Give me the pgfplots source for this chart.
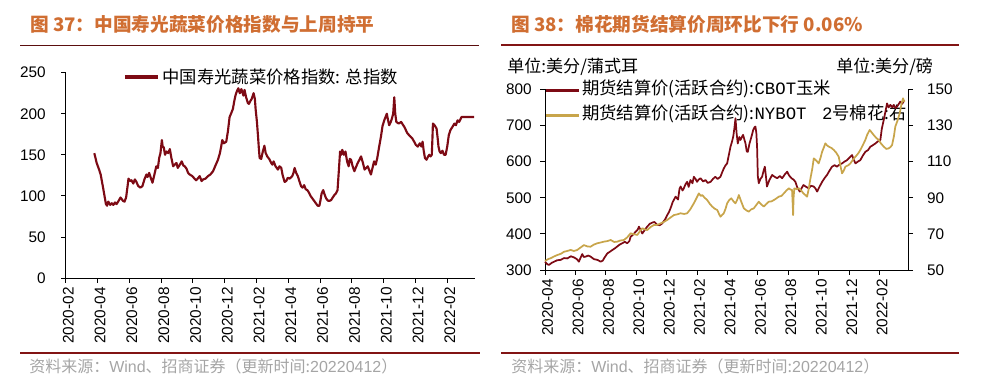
\documentclass[border=0pt]{standalone}
\usepackage{pgfplots}
\pgfplotsset{compat=1.18}
\usepackage{fontspec}
\setmainfont{Liberation Sans}
\newfontfamily\cjk{Noto Sans CJK SC}
\newfontfamily\lmono{Liberation Mono}
\definecolor{corn}{RGB}{125,10,20}
\definecolor{cotton}{RGB}{200,165,75}
\definecolor{titleor}{RGB}{208,110,50}
\definecolor{rulec}{RGB}{130,20,20}
\definecolor{srcgray}{RGB}{165,165,165}

\pgfplotsset{
  base/.style={
    scale only axis, anchor=south west,
    axis line style={-, black, line width=0.6pt},
    tick style={black, line width=0.6pt},
    major tick length=3.5pt, tick align=outside,
    ticklabel style={font=\fontsize{11.5}{13}\selectfont},
    /pgf/number format/assume math mode=true,
    xticklabel style={rotate=90, anchor=east, yshift=-2pt},
    clip=false,
  },
  legbase/.style={
    scale only axis, anchor=south west, hide axis,
    xmin=0,xmax=1,ymin=0,ymax=1,
    legend cell align=left,
    legend image code/.code={\draw[##1] (0pt,0pt) -- (25pt,0pt);},
  }
}

\begin{document}
\begin{tikzpicture}[x=0.75pt,y=0.75pt]
\useasboundingbox (0,0) rectangle (987,388);

% titles
\node[anchor=west, text=titleor, font=\cjk\bfseries\fontsize{14}{16}\selectfont, inner sep=0pt] at (30,363.5) {图 37：中国寿光蔬菜价格指数与上周持平};
\node[anchor=west, text=titleor, font=\cjk\bfseries\fontsize{14}{16}\selectfont, inner sep=0pt] at (511,363.5) {图 38：棉花期货结算价周环比下行 0.06\%};
% rules
\draw[rulec!70!black, line width=0.7pt] (20,343) -- (479,343);
\draw[rulec, line width=1.4pt] (501,343) -- (959,343);
\draw[rulec, line width=1.4pt] (20,35) -- (480,35);
\draw[rulec, line width=1.4pt] (501,35) -- (959,35);
% sources
\node[anchor=west, text=srcgray, font=\cjk\fontsize{12}{13}\selectfont, inner sep=0pt] at (29,22) {资料来源：{\rmfamily Wind}、招商证券（更新时间:{\rmfamily 20220412}）};
\node[anchor=west, text=srcgray, font=\cjk\fontsize{12}{13}\selectfont, inner sep=0pt] at (511,22) {资料来源：{\rmfamily Wind}、招商证券（更新时间:{\rmfamily 20220412}）};
% units
\node[anchor=west, font=\cjk\fontsize{12.8}{14}\selectfont, inner sep=0pt] at (507,321) {单位:美分/蒲式耳};
\node[anchor=west, font=\cjk\fontsize{12.8}{14}\selectfont, inner sep=0pt] at (836,321) {单位:美分/磅};

% ---------- left legend ----------
\begin{axis}[legbase, at={(49.275pt,82.5pt)}, width=307pt, height=154pt,
  legend style={at={(0.14,0.979)}, anchor=west, draw=none, fill=none, inner sep=0pt,
    font=\cjk\fontsize{13}{15}\selectfont}]
\addlegendimage{corn, line width=2.4pt}
\addlegendentry{中国寿光蔬菜价格指数: 总指数}
\end{axis}

% ---------- left data ----------
\begin{axis}[base, at={(49.275pt,82.5pt)}, width=307pt, height=154pt,
  axis lines*=left,
  xmin=0, xmax=25.75, ymin=0, ymax=250,
  ytick={0,50,...,250},
  xtick={0,2,...,24},
  xticklabels={2020-02,2020-04,2020-06,2020-08,2020-10,2020-12,2021-02,2021-04,2021-06,2021-08,2021-10,2021-12,2022-02},
  yticklabel style={xshift=-8pt},
]
\addplot[corn, line width=1.6pt, line join=round] table {
1.80 152
1.95 140
2.10 132
2.20 126
2.36 109
2.53 90
2.60 88
2.68 93
2.80 89
2.90 91
3.00 89
3.10 92
3.20 90
3.30 93
3.45 98
3.60 94
3.70 93
3.80 98
3.88 110
3.95 121
4.05 118
4.14 119
4.25 115
4.35 120
4.45 117
4.56 112
4.70 110
4.83 112
4.95 120
5.08 126
5.15 123
5.25 128
5.35 122
5.46 116
5.58 126
5.70 136
5.80 134
5.88 146
5.96 152
6.05 168
6.10 160
6.17 159
6.25 150
6.34 154
6.45 152
6.55 157
6.65 146
6.76 136
6.85 138
6.97 140
7.05 134
7.18 138
7.30 142
7.40 137
7.49 136
7.60 133
7.70 128
7.80 126
7.97 124
8.10 121
8.20 119
8.30 121
8.43 124
8.55 118
8.64 120
8.80 121
8.95 124
9.10 126
9.27 130
9.40 136
9.58 144
9.70 152
9.78 160
9.85 168
9.95 164
10.10 166
10.20 178
10.31 196
10.40 200
10.52 206
10.60 215
10.69 223
10.78 228
10.86 231
10.95 225
11.05 230
11.10 227
11.18 222
11.25 229
11.35 220
11.46 213
11.53 212
11.60 215
11.70 218
11.82 225
11.90 218
11.95 205
12.03 190
12.10 172
12.15 158
12.20 146
12.30 145
12.40 154
12.50 161
12.58 152
12.68 148
12.80 145
12.93 140
13.00 138
13.08 142
13.20 136
13.35 132
13.45 136
13.56 134
13.65 125
13.77 117
13.87 118
13.97 122
14.10 121
14.25 124
14.33 128
14.40 134
14.50 128
14.60 124
14.70 118
14.80 112
14.90 110
15.00 113
15.10 108
15.20 107
15.30 104
15.40 100
15.55 96
15.70 92
15.85 88
15.96 88
16.03 95
16.10 103
16.20 107
16.28 102
16.38 97
16.50 94
16.60 94
16.70 95
16.80 98
16.90 101
17.00 103
17.10 107
17.18 130
17.26 154
17.33 150
17.40 156
17.50 150
17.60 154
17.70 142
17.80 136
17.87 145
17.95 144
18.05 136
18.16 130
18.26 135
18.37 140
18.48 144
18.58 148
18.70 140
18.80 132
18.90 134
19.00 136
19.10 131
19.20 126
19.30 134
19.40 142
19.50 138
19.60 146
19.72 160
19.83 172
19.93 185
20.04 192
20.12 196
20.20 200
20.28 192
20.35 186
20.45 190
20.52 194
20.60 200
20.67 220
20.73 200
20.80 190
20.95 188
21.10 190
21.20 187
21.30 184
21.40 180
21.50 176
21.65 173
21.80 170
21.92 166
22.03 162
22.15 160
22.28 164
22.38 160
22.45 166
22.52 155
22.60 146
22.70 144
22.80 148
22.87 150
22.95 148
23.03 150
23.07 170
23.10 188
23.20 186
23.33 182
23.40 170
23.45 160
23.52 154
23.60 152
23.70 155
23.80 150
23.90 150
24.00 160
24.10 174
24.20 180
24.33 184
24.45 188
24.55 186
24.65 192
24.75 190
24.90 196
25.00 196
25.70 196
};
\end{axis}

% ---------- right legend ----------
\begin{axis}[legbase, at={(408.75pt,88.5pt)}, width=272.5pt, height=135.5pt,
  legend style={at={(-0.003,0.925)}, anchor=west, draw=none, fill=none, inner sep=0pt,
    row sep=6.5pt,
    nodes={inner sep=1pt, text height=0.85em, text depth=0.2em},
    font=\cjk\fontsize{13}{15}\selectfont}]
\addlegendimage{corn, line width=2.4pt}
\addlegendentry{期货结算价(活跃合约):{\lmono CBOT}玉米}
\addlegendimage{cotton, line width=2.4pt}
\addlegendentry{期货结算价(活跃合约):{\lmono NYBOT}\hspace{0.9em}{\lmono 2}号棉花:右}
\end{axis}

% ---------- right data: corn ----------
\begin{axis}[base, at={(408.75pt,88.5pt)}, width=272.5pt, height=135.5pt,
  axis lines*=left,
  xmin=0, xmax=23.9, ymin=300, ymax=800,
  ytick={300,400,...,800},
  xtick={0,2,...,22},
  xticklabels={2020-04,2020-06,2020-08,2020-10,2020-12,2021-02,2021-04,2021-06,2021-08,2021-10,2021-12,2022-02},
  yticklabel style={xshift=-3pt},
]
\addplot[corn, line width=1.3pt, line join=round] table {
0.00 323
0.15 316
0.26 314
0.45 320
0.60 323
0.80 327
1.03 328
1.25 333
1.47 332
1.70 338
1.90 335
2.10 330
2.23 323
2.35 335
2.45 344
2.55 336
2.67 337
2.85 340
3.00 337
3.22 330
3.45 328
3.66 323
3.80 326
3.88 332
4.10 346
4.25 350
4.42 355
4.60 360
4.75 365
4.90 370
5.08 374
5.25 378
5.41 374
5.55 380
5.63 392
5.80 398
5.96 406
6.10 412
6.18 420
6.30 410
6.40 401
6.55 410
6.72 420
6.90 428
7.05 431
7.20 433
7.38 425
7.55 424
7.71 429
7.90 440
8.04 452
8.15 460
8.26 471
8.40 488
8.59 503
8.75 495
8.85 525
8.92 531
9.05 520
9.13 526
9.25 538
9.35 544
9.45 530
9.57 549
9.70 540
9.79 558
9.90 552
10.00 544
10.10 550
10.23 554
10.40 545
10.56 549
10.70 541
10.89 544
11.05 552
11.20 558
11.35 552
11.54 558
11.65 570
11.76 581
11.88 590
11.98 595
12.10 620
12.20 641
12.30 655
12.38 669
12.45 690
12.53 720
12.60 680
12.68 650
12.78 668
12.86 660
12.95 668
13.03 674
13.12 660
13.19 650
13.27 628
13.34 627
13.45 650
13.52 660
13.62 675
13.69 687
13.78 695
13.84 697
13.90 680
13.95 641
14.00 560
14.06 540
14.17 552
14.28 558
14.38 575
14.46 586
14.53 560
14.60 531
14.75 548
14.94 563
15.10 558
15.27 554
15.45 560
15.60 554
15.80 566
15.93 572
16.05 562
16.21 554
16.35 550
16.47 544
16.60 528
16.76 517
16.90 528
17.00 535
17.18 530
17.35 526
17.50 533
17.68 531
17.80 525
17.90 517
18.05 530
18.23 544
18.40 555
18.55 563
18.70 574
18.88 586
19.05 590
19.20 586
19.38 592
19.54 595
19.70 600
19.87 604
20.05 612
20.20 618
20.30 606
20.42 595
20.58 600
20.74 604
20.90 616
21.07 627
21.25 632
21.40 641
21.55 645
21.73 650
21.90 656
22.06 660
22.15 690
22.28 715
22.40 740
22.50 761
22.60 750
22.72 757
22.85 750
22.94 757
23.05 748
23.15 752
23.28 760
23.37 766
23.50 760
23.64 770
};
\end{axis}

% ---------- right data: cotton ----------
\begin{axis}[base, at={(408.75pt,88.5pt)}, width=272.5pt, height=135.5pt,
  axis x line=none, axis y line*=right,
  xmin=0, xmax=23.9, ymin=50, ymax=150,
  ytick={50,70,...,150},
  yticklabel shift=7pt,
]
\addplot[cotton, line width=1.3pt, line join=round] table {
0.00 55.0
0.20 56.0
0.37 56.5
0.60 57.5
0.81 58.3
1.05 59.0
1.25 60.1
1.45 60.5
1.69 61.1
1.90 60.5
2.12 61.1
2.35 62.5
2.56 63.8
2.80 63.0
3.00 62.9
3.20 64.0
3.44 64.8
3.65 65.2
3.88 65.7
4.10 66.0
4.32 66.6
4.55 65.5
4.75 65.7
4.95 66.3
5.19 66.6
5.40 68.0
5.63 70.3
5.85 69.8
6.07 69.4
6.25 71.5
6.40 73.1
6.55 72.5
6.72 72.1
6.95 73.8
7.16 74.9
7.40 75.0
7.60 75.8
7.80 76.5
8.04 77.7
8.25 79.0
8.48 80.4
8.70 80.8
8.92 81.4
9.15 81.0
9.35 81.4
9.55 83.5
9.79 86.9
9.95 89.5
10.12 92.4
10.25 91.0
10.34 91.5
10.50 90.0
10.67 88.7
10.85 86.5
11.00 85.1
11.15 84.0
11.33 83.2
11.45 81.0
11.54 79.5
11.65 80.5
11.76 81.4
11.88 84.0
11.98 86.9
12.10 88.5
12.25 89.7
12.40 88.0
12.53 86.9
12.65 89.0
12.75 91.5
12.90 88.0
13.08 84.1
13.25 83.0
13.41 82.3
13.55 83.5
13.73 84.1
13.90 86.0
14.06 87.8
14.20 86.5
14.39 85.1
14.55 86.5
14.72 87.8
14.90 88.0
15.05 88.7
15.20 89.5
15.38 90.6
15.55 91.0
15.71 92.4
15.88 94.0
16.04 95.2
16.15 94.5
16.25 94.3
16.30 85.0
16.32 80.4
16.35 90.0
16.40 95.2
16.55 94.8
16.70 95.2
16.85 94.0
17.00 92.4
17.12 91.5
17.24 90.6
17.35 95.0
17.46 100.7
17.58 106.0
17.68 111.8
17.85 110.5
18.00 109.0
18.12 112.0
18.23 115.5
18.35 118.0
18.44 120.1
18.55 119.0
18.66 118.3
18.85 117.5
19.00 116.4
19.15 115.0
19.32 112.7
19.45 107.0
19.54 103.5
19.65 105.0
19.76 107.2
19.95 108.0
20.09 109.0
20.25 111.0
20.42 112.7
20.60 114.5
20.74 116.4
20.90 119.0
21.07 122.0
21.20 125.0
21.36 127.5
21.50 126.0
21.62 124.7
21.80 123.0
21.95 122.0
22.10 120.0
22.28 118.3
22.45 117.0
22.60 117.3
22.72 118.0
22.83 119.2
22.95 124.0
23.04 129.3
23.20 133.0
23.33 136.7
23.45 142.0
23.55 145.0
23.64 143.0
};
\end{axis}
\end{tikzpicture}
\end{document}
